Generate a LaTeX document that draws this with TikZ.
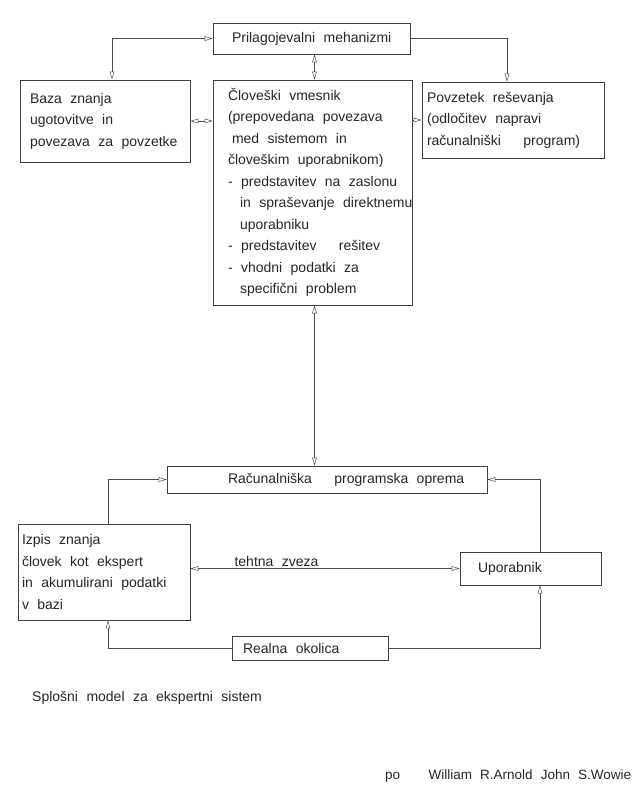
\documentclass[tikz,border=0pt]{standalone}
\usepackage{fontspec}
\setmainfont{Liberation Sans}
\usetikzlibrary{arrows.meta}
\tikzset{
besedilo/.style={text=black!85, font=\fontsize{14}{21.5}\selectfont,
	  execute at begin node={\spaceskip=0.6em plus 0.1em\relax\rightskip=-60pt plus 1fil\relax}},
blok/.style={besedilo,
	  draw=black!75, line width=0.6pt, inner sep=0pt, align=left},
pil/.style={-{Triangle[open,length=8pt,width=4.6pt]}, draw=black!70, line width=0.5pt},
dpil/.style={{Triangle[open,length=8pt,width=4.6pt]}-{Triangle[open,length=8pt,width=4.6pt]}, draw=black!70, line width=0.5pt}
}
\newcommand{\vrz}{\hspace{1.6em}}

\begin{document}
\begin{tikzpicture}[x=1pt, y=-1pt]
	\useasboundingbox (0,0) rectangle (639,792);
	\node[blok, minimum width=197pt, minimum height=31pt, text width=159pt] (meh) at (311.5,38.5)
	  {Prilagojevalni mehanizmi};
	\node[blok, minimum width=170pt, minimum height=82pt, text width=150pt] (baza) at (105,121)
	  {Baza znanja\\ ugotovitve in\\ povezava za povzetke};
	\node[blok, minimum width=199pt, minimum height=225pt, text width=169pt] (vmes) at (312.5,192.5)
	  {Človeški vmesnik\\ (prepovedana povezava\\ \hspace{4pt}med sistemom in\\ človeškim uporabnikom)\\
	   - predstavitev na zaslonu\\ \hspace{12pt}in spraševanje direktnemu\\ \hspace{12pt}uporabniku\\
	   - predstavitev\vrz rešitev\\ - vhodni podatki za\\ \hspace{12pt}specifični problem};
	\node[blok, minimum width=182pt, minimum height=76pt, text width=172pt] (povz) at (513,120)
	  {Povzetek reševanja\\ (odločitev napravi\\ računalniški\vrz program)};
	\node[blok, minimum width=320pt, minimum height=27pt, text width=198pt] (rac) at (327,479.5)
	  {Računalniška\vrz programska oprema};
	\node[blok, minimum width=172pt, minimum height=96pt, text width=164pt] (izpis) at (104,572)
	  {Izpis znanja\\ človek kot ekspert\\ in akumulirani podatki\\ v bazi};
	\node[blok, minimum width=141pt, minimum height=33pt, text width=105pt] (upor) at (530.5,568.5)
	  {Uporabnik};
	\node[blok, minimum width=156pt, minimum height=24pt, text width=134pt] (real) at (310,648)
	  {Realna okolica};
	% povezave
	\draw[dpil] ([xshift=7pt]baza.north) |- (meh.west);
	\draw[pil] (meh.east) -| ([xshift=-6pt]povz.north);
	\draw[dpil] ([xshift=3pt]meh.south) -- ([xshift=2pt]vmes.north);
	\draw[dpil] (baza.east) -- (baza.east -| vmes.west);
	\draw[pil] (povz.west -| vmes.east) -- (povz.west);
	\draw[dpil] ([xshift=2pt]vmes.south) -- ([xshift=2pt]vmes.south |- rac.north);
	\draw[pil] ([xshift=4pt]izpis.north) |- (rac.west);
	\draw[pil] ([xshift=9.5pt]upor.north) |- (rac.east);
	\draw[dpil] (upor.west -| izpis.east) -- node[besedilo, above, pos=0.32, inner sep=2pt] (zveza) {tehtna zveza} (upor.west);
	\draw[pil] (real.west) -| ([xshift=4pt]izpis.south);
	\draw[pil] (real.east) -| ([xshift=9.5pt]upor.south);
	% napisi
	\node[besedilo, anchor=base west, inner sep=0pt] (naslov) at (32,701)
	  {Splošni model za ekspertni sistem};
	\node[besedilo, anchor=base west, inner sep=0pt, font=\fontsize{13.5}{15}\selectfont] (avtor) at (385,779)
	  {po\hspace{2.1em}William R.Arnold John S.Wowie};
\end{tikzpicture}
\end{document}
